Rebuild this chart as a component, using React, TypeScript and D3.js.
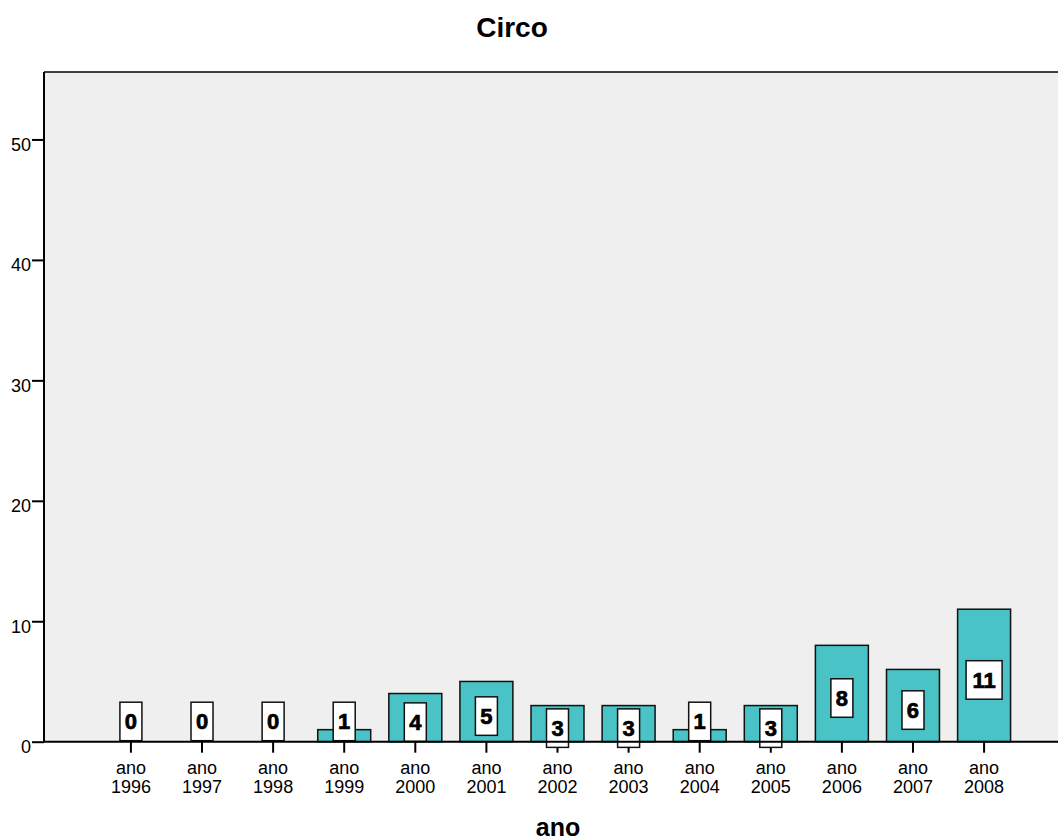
import React, { useRef, useEffect } from 'react';
import * as d3 from 'd3';

const categories = ['1996', '1997', '1998', '1999', '2000', '2001', '2002', '2003', '2004', '2005', '2006', '2007', '2008'];
const counts = [0, 0, 0, 1, 4, 5, 3, 3, 1, 3, 8, 6, 11];
const yTicks = [0, 10, 20, 30, 40, 50];
const title = 'Circo';
const xTitle = 'ano';

const W = 1058;
const H = 838;

const App = () => {
  const svgRef = useRef<SVGSVGElement>(null);

  useEffect(() => {
    const svg = d3.select(svgRef.current);
    svg.selectAll('*').remove();

    const left = 44, top = 72, bottom = 741.7;
    const font = '"Liberation Sans", Arial, sans-serif';

    const x = d3.scaleBand<string>()
      .domain(categories)
      .range([left, 1071])
      .paddingInner(0.255)
      .paddingOuter(0.85);
    const y = d3.scaleLinear().domain([0, 55.6]).range([bottom, top]);

    // plot background
    svg.append('rect')
      .attr('x', left).attr('y', top)
      .attr('width', W - left).attr('height', bottom - top)
      .attr('fill', '#efefef');

    svg.append('text')
      .attr('x', 512).attr('y', 37)
      .attr('text-anchor', 'middle')
      .style('font-family', font).style('font-weight', 'bold').style('font-size', '28px')
      .text(title);

    // bars
    const bars = svg.append('g');
    bars.selectAll('rect')
      .data(categories)
      .join('rect')
      .attr('x', d => x(d)!)
      .attr('y', (d, i) => y(counts[i]))
      .attr('width', x.bandwidth())
      .attr('height', (d, i) => bottom - y(counts[i]))
      .attr('fill', '#49c3c6')
      .attr('stroke', '#111')
      .attr('stroke-width', 1.5);

    // frame lines
    svg.append('line').attr('x1', left).attr('x2', W).attr('y1', top).attr('y2', top)
      .attr('stroke', '#000').attr('stroke-width', 1.5);

    const yAxis = d3.axisLeft(y).tickValues(yTicks).tickSize(12).tickPadding(1).tickFormat(d3.format('d'));
    const yg = svg.append('g').attr('transform', `translate(${left},0)`).call(yAxis);
    yg.select('.domain').remove();
    yg.selectAll('line').attr('stroke', '#000').attr('stroke-width', 2);
    yg.selectAll('text').style('font-family', font).style('font-size', '18px').attr('fill', '#000').attr('dy', '0.6em');
    svg.append('line').attr('x1', left).attr('x2', left).attr('y1', top).attr('y2', bottom)
      .attr('stroke', '#000').attr('stroke-width', 2);

    // x axis
    const xAxis = d3.axisBottom(x).tickSize(11).tickFormat(() => '');
    const xg = svg.append('g').attr('transform', `translate(0,${bottom})`).call(xAxis);
    xg.select('.domain').remove();
    xg.selectAll('line').attr('stroke', '#000').attr('stroke-width', 2);
    const tl = xg.selectAll<SVGGElement, string>('.tick').append('text')
      .attr('fill', '#000')
      .attr('text-anchor', 'middle')
      .style('font-family', font).style('font-size', '18px');
    tl.append('tspan').attr('x', 0).attr('y', 32.3).text('ano');
    tl.append('tspan').attr('x', 0).attr('y', 51).text(d => d);

    // value labels
    const lg = svg.append('g');
    categories.forEach((c, i) => {
      const v = counts[i];
      const cx = x(c)! + x.bandwidth() / 2;
      const bh = 38.5;
      const bw = String(v).length === 1 ? 22 : 36;
      let cy = (y(v) + bottom) / 2 + 4.5;
      if (v <= 1) cy = bottom - 1 - bh / 2;
      lg.append('rect')
        .attr('x', cx - bw / 2).attr('y', cy - bh / 2)
        .attr('width', bw).attr('height', bh)
        .attr('fill', '#fff').attr('stroke', '#111').attr('stroke-width', 1.5);
      lg.append('text')
        .attr('x', cx).attr('y', cy + 7.8)
        .attr('text-anchor', 'middle')
        .attr('stroke', '#000').attr('stroke-width', 0.7)
        .style('font-family', font).style('font-weight', 'bold').style('font-size', '22px')
        .text(v);
    });

    svg.append('line').attr('x1', left).attr('x2', W).attr('y1', bottom).attr('y2', bottom)
      .attr('stroke', '#000').attr('stroke-width', 2);

    svg.append('text')
      .attr('x', 558).attr('y', 836)
      .attr('text-anchor', 'middle')
      .style('font-family', font).style('font-weight', 'bold').style('font-size', '25px')
      .text(xTitle);
  }, []);

  return (
    <svg ref={svgRef} width={W} height={H}
      style={{ position: 'absolute', left: 0, top: 0, background: '#fff' }} />
  );
};

export default App;
